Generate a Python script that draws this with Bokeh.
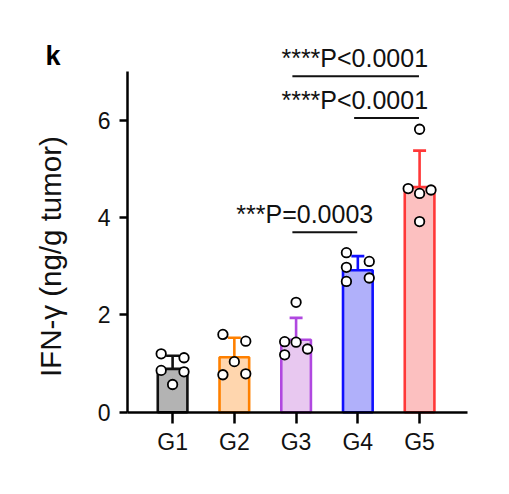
import numpy as np
from bokeh.plotting import figure
from bokeh.models import FixedTicker, Label
from bokeh.embed import file_html
from bokeh.resources import INLINE

# ---- data ----
groups = ["G1", "G2", "G3", "G4", "G5"]
means = [0.89, 1.13, 1.49, 2.92, 4.63]
sds = [0.27, 0.40, 0.45, 0.29, 0.75]
points = [
    [1.20, 1.12, 0.86, 0.83, 0.57],
    [1.60, 1.46, 1.04, 0.77, 0.79],
    [2.26, 1.45, 1.44, 1.30, 1.18],
    [3.28, 3.10, 2.98, 2.69, 2.76],
    [5.82, 4.60, 4.50, 4.57, 3.92],
]
# comparisons: (from group, to group, bracket height, label)
comparisons = [
    ("G3", "G5", 6.91, "****P<0.0001"),
    ("G4", "G5", 6.05, "****P<0.0001"),
    ("G3", "G4", 3.70, "***P=0.0003"),
]
y_ticks = [0, 2, 4, 6]
y_label = "IFN-γ (ng/g tumor)"
panel_letter = "k"

# ---- layout / style (not data) ----
jitter = [
    [-1, 1, -1, 1, 0],
    [-1, 1, 0, -1, 1],
    [0, -1, 0, 1, -1],
    [-1, 1, -1, -1, 1],
    [0, -1, 0, 1, 0],
]
label_x = [3.95, 3.95, 3.14]
fills = ["#b3b3b3", "#ffd6ae", "#e8c8f0", "#b0b0fa", "#fcc0c0"]
lines = ["#111111", "#ff8000", "#b048e0", "#1010ff", "#ff3838"]
FONT = "Liberation Sans"
X_AX = (0.27, 5.77)   # visible x-axis span
Y_AX = (0, 7)         # visible y-axis span

xs = np.arange(1, len(groups) + 1)

p = figure(width=493, height=478, output_backend="svg", toolbar_location=None,
           x_range=(-1.787, 6.197), y_range=(-1.364, 8.468), min_border=0)
p.outline_line_color = None
p.grid.visible = False
p.background_fill_color = "white"

# bars
p.vbar(x=xs, top=means, width=0.48, fill_color=fills, line_color=lines, line_width=2.6)

# error bars (upper only)
upper = np.array(means) + np.array(sds)
p.segment(x0=xs, y0=means, x1=xs, y1=upper, line_color=lines, line_width=2.6)
p.segment(x0=xs - 0.105, y0=upper, x1=xs + 0.105, y1=upper, line_color=lines, line_width=2.6)

# points
px, py = [], []
for i, (vals, jit) in enumerate(zip(points, jitter)):
    for v, j in zip(vals, jit):
        px.append(xs[i] + j * 0.185)
        py.append(v)
p.scatter(x=px, y=py, size=9.5, fill_color="white", line_color="black", line_width=1.8)

# comparison brackets
gi = {g: k + 1 for k, g in enumerate(groups)}
for (a, b, h, txt), lx in zip(comparisons, label_x):
    p.segment(x0=[gi[a] - 0.06], y0=[h], x1=[gi[b] - 0.01], y1=[h], line_color="#111111", line_width=2)
    p.add_layout(Label(x=lx, y=h + 0.38, text=txt, text_align="center", text_baseline="alphabetic",
                       text_font=FONT, text_font_size="25px", text_color="#111111"))

# panel letter
p.add_layout(Label(x=-1.06, y=7.33, text=panel_letter, text_font=FONT, text_font_size="27px",
                   text_font_style="bold", text_color="black", text_baseline="alphabetic"))

# y-axis title (rotated label)
p.add_layout(Label(x=-0.97, y=3.20, text=y_label, angle=np.pi / 2, text_align="center",
                   text_baseline="middle", text_font=FONT, text_font_size="29.5px",
                   text_color="#111111"))

# axes (pinned to the data origin so that everything sits inside the frame)
p.xaxis.ticker = FixedTicker(ticks=list(xs))
p.xaxis.major_label_overrides = {int(x): g for x, g in zip(xs, groups)}
p.xaxis.bounds = X_AX
p.xaxis.fixed_location = Y_AX[0]
p.yaxis.ticker = FixedTicker(ticks=y_ticks)
p.yaxis.bounds = Y_AX
p.yaxis.fixed_location = X_AX[0]
for ax in (p.xaxis[0], p.yaxis[0]):
    ax.axis_line_width = 2.5
    ax.axis_line_color = "black"
    ax.major_tick_line_width = 2.5
    ax.major_tick_line_color = "black"
    ax.minor_tick_line_color = None
    ax.major_tick_in = 0
    ax.major_label_text_font = FONT
    ax.major_label_text_color = "#111111"
p.xaxis.major_tick_out = 11
p.yaxis.major_tick_out = 8
p.xaxis.major_label_text_font_size = "23px"
p.yaxis.major_label_text_font_size = "23px"
p.xaxis.major_label_standoff = 6
p.yaxis.major_label_standoff = 9

open("out.html", "w").write(file_html(p, INLINE))
